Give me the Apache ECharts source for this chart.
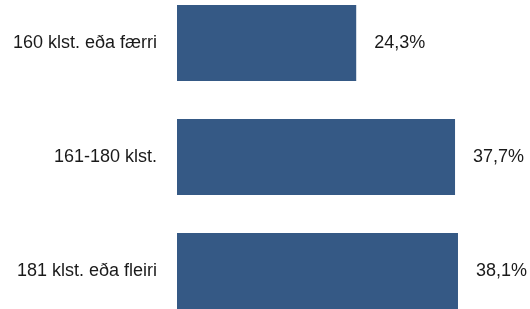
<!DOCTYPE html>
<html>
<head>
<meta charset="utf-8">
<script src="https://cdn.jsdelivr.net/npm/echarts@6/dist/echarts.min.js"></script>
<style>
  html, body { margin: 0; padding: 0; background: #fff; }
  #main { width: 530px; height: 309px; }
</style>
</head>
<body>
<div id="main"></div>
<script>
// hours categories, top to bottom
const categories = ['160 klst. eða færri', '161-180 klst.', '181 klst. eða fleiri'];
const shares = [24.3, 37.7, 38.1];

let chart = echarts.init(document.getElementById('main'));

chart.setOption({
  animation: false,
  grid: { left: 177, top: -14, width: 295, height: 342, containLabel: false, outerBoundsMode: 'none' },
  xAxis: {
    type: 'value',
    min: 0,
    max: 40,
    show: false
  },
  yAxis: {
    type: 'category',
    data: categories,
    inverse: true,
    axisLine: { show: false },
    axisTick: { show: false },
    axisLabel: {
      margin: 20,
      fontFamily: 'Liberation Sans, Arial, sans-serif',
      fontSize: 18,
      color: '#1a1a1a'
    }
  },
  series: [{
    type: 'bar',
    data: shares,
    barCategoryGap: '33.3%',
    itemStyle: { color: '#355985' },
    label: {
      show: true,
      position: 'right',
      distance: 18,
      fontFamily: 'Liberation Sans, Arial, sans-serif',
      fontSize: 18,
      color: '#1a1a1a',
      formatter: function (p) {
        return p.value.toFixed(1).replace('.', ',') + '%';
      }
    }
  }]
});
</script>
</body>
</html>
